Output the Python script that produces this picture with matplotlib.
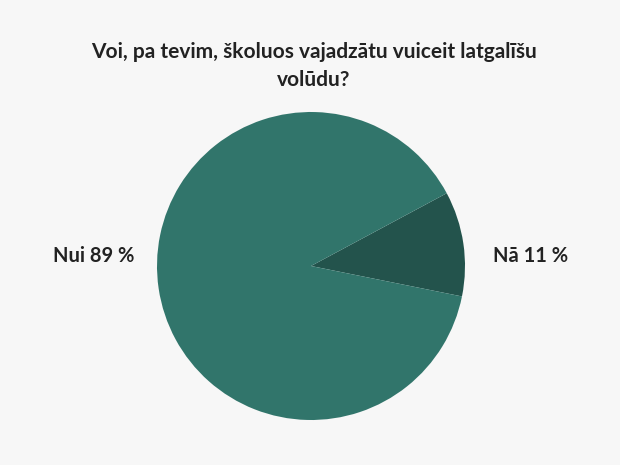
import matplotlib
matplotlib.use("Agg")
from matplotlib import pyplot as plt

# Data
labels = ["Nā 11 %", "Nui 89 %"]
values = [11, 89]
colors = ["#23534c", "#31756b"]
title = "Voi, pa tevim, školuos vajadzātu vuiceit latgalīšu\nvolūdu?"

bg = "#f7f7f7"
plt.rcParams['font.family'] = ['Lato', 'DejaVu Sans']

fig = plt.figure(figsize=(6.2, 4.65), dpi=100, facecolor=bg)
# pie centre ~ (311, 266), radius ~154 px
ax = fig.add_axes([(311 - 154) / 620, (465 - 266 - 154) / 465, 308 / 620, 308 / 465])
ax.set_facecolor(bg)

# dark slice centred slightly above the horizontal
start = 8.4 - values[0] / 100 * 360 / 2
ax.pie(values, colors=colors, startangle=start, counterclock=True,
       wedgeprops=dict(linewidth=0))
ax.set_xlim(-1, 1)
ax.set_ylim(-1, 1)
ax.set_aspect("equal")

fig.text(94 / 620, 1 - 256 / 465, labels[1], ha="center", va="center",
         fontsize=14.5, fontweight="bold", color="#222222")
fig.text(531 / 620, 1 - 256 / 465, labels[0], ha="center", va="center",
         fontsize=14.5, fontweight="bold", color="#222222")
fig.text(314 / 620, 1 - 66 / 465, title, ha="center", va="center", fontsize=15,
         fontweight="bold", color="#222222", linespacing=1.45)

fig.savefig("out.png", dpi=100, facecolor=bg)
